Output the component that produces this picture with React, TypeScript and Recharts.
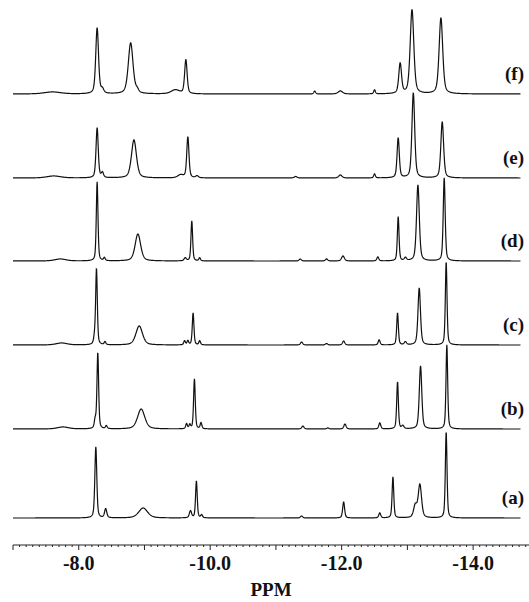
import React from 'react';
import { LineChart, Line, XAxis, YAxis } from 'recharts';

// ---- data: [position ppm (magnitude), height, FWHM ppm] ----
type Peak = [number, number, number];

const peaksA: Peak[] = [
  [8.26, 71, 0.035], [8.41, 9, 0.04], [8.98, 10, 0.16], [9.70, 7, 0.04],
  [9.79, 37, 0.03], [9.87, 3, 0.03], [11.39, 2, 0.04], [12.03, 16, 0.035],
  [12.58, 5, 0.035], [12.78, 41, 0.03], [13.12, 12, 0.06], [13.19, 33, 0.06],
  [13.59, 86, 0.03],
];
const peaksB: Peak[] = [
  [7.76, 2, 0.2], [8.25, 8, 0.03], [8.29, 76, 0.03], [8.42, 3, 0.03],
  [8.95, 20, 0.13], [9.64, 5, 0.03], [9.69, 4, 0.03], [9.76, 50, 0.03],
  [9.86, 6, 0.03], [11.41, 3, 0.04], [11.79, 1, 0.04], [12.05, 5, 0.04],
  [12.58, 6, 0.035], [12.85, 47, 0.03], [12.93, 3, 0.04], [13.20, 63, 0.045],
  [13.60, 84, 0.03],
];
const peaksC: Peak[] = [
  [7.74, 2, 0.2], [8.24, 6, 0.03], [8.27, 76, 0.03], [8.40, 3, 0.03],
  [8.92, 19, 0.12], [9.61, 4, 0.03], [9.66, 4, 0.03], [9.74, 32, 0.03],
  [9.84, 4, 0.03], [11.39, 3, 0.04], [11.77, 1.5, 0.04], [12.03, 4, 0.04],
  [12.57, 5, 0.035], [12.85, 32, 0.03], [12.97, 3, 0.04], [13.18, 57, 0.045],
  [13.59, 83, 0.03],
];
const peaksD: Peak[] = [
  [7.72, 2, 0.2], [8.28, 79, 0.03], [8.39, 3, 0.03], [8.90, 27, 0.1],
  [9.62, 3, 0.04], [9.72, 40, 0.03], [9.84, 3, 0.03], [11.37, 2, 0.04],
  [11.77, 2, 0.04], [12.02, 5, 0.05], [12.55, 4, 0.035], [12.86, 44, 0.03],
  [12.97, 3, 0.04], [13.16, 76, 0.05], [13.56, 83, 0.035],
];
const peaksE: Peak[] = [
  [7.62, 2, 0.25], [8.28, 50, 0.04], [8.36, 5, 0.04], [8.84, 38, 0.09],
  [9.55, 3, 0.1], [9.66, 41, 0.04], [9.80, 2, 0.05], [11.30, 1.5, 0.05],
  [11.98, 3, 0.06], [12.50, 4, 0.03], [12.86, 40, 0.04], [13.09, 85, 0.05],
  [13.53, 56, 0.05],
];
const peaksF: Peak[] = [
  [7.60, 2, 0.3], [8.28, 66, 0.05], [8.36, 4, 0.05], [8.79, 51, 0.085],
  [8.89, 3, 0.05], [9.47, 4, 0.15], [9.63, 34, 0.045], [11.59, 3, 0.03],
  [11.98, 3, 0.08], [12.50, 4, 0.03], [12.89, 30, 0.05], [13.07, 84, 0.065],
  [13.51, 76, 0.065],
];

const spectrumKeys = ['a', 'b', 'c', 'd', 'e', 'f'];
const spectrumLabels = ['(a)', '(b)', '(c)', '(d)', '(e)', '(f)'];
const spectrumPeaks = [peaksA, peaksB, peaksC, peaksD, peaksE, peaksF];

const labelledTicks = [8, 10, 12, 14];
const labelledTickText = ['-8.0', '-10.0', '-12.0', '-14.0'];
const axisTitle = 'PPM';

// ---- layout ----
const W = 529;
const H = 602;
const PLOT_LEFT = 13;
const AXIS_Y = 545;
const baselinePx = [518, 429, 345, 261, 178, 94];
const X_MIN = 7.0;
const X_MAX = 14.85;
const DATA_START = 7.0;
const DATA_END = 14.72;
const STEP = 0.004;
const ETA = 0.45;

function shape(x: number, peaks: Peak[]): number {
  let s = 0;
  for (const [p, h, w] of peaks) {
    const r = (x - p) / w;
    const lor = 1 / (1 + 4 * r * r);
    const gau = Math.exp(-4 * Math.LN2 * r * r);
    s += h * (ETA * lor + (1 - ETA) * gau);
  }
  return s;
}

const rows: Record<string, number>[] = [];
const n = Math.round((DATA_END - DATA_START) / STEP);
for (let i = 0; i <= n; i++) {
  const ppm = DATA_START + i * STEP;
  const row: Record<string, number> = { ppm };
  spectrumKeys.forEach((k, j) => {
    row[k] = AXIS_Y - baselinePx[j] + shape(ppm, spectrumPeaks[j]);
  });
  rows.push(row);
}

const minorTicks: number[] = [];
for (let k = 70; k <= 148; k++) minorTicks.push(k / 10);

const serif = '"Liberation Serif", "Times New Roman", serif';

function AxisTick(props: any) {
  const { x, y, payload } = props;
  const v = Math.round(payload.value * 10) / 10;
  const isMajor = Math.abs(v - Math.round(v)) < 1e-6;
  const li = labelledTicks.indexOf(v);
  return (
    <g>
      <line x1={x} x2={x} y1={y} y2={y + (isMajor ? 5 : 2)} stroke="#222" strokeWidth={1} />
      {li >= 0 && (
        <text x={x} y={y + 25} textAnchor="middle" fontFamily={serif} fontWeight="bold" fontSize={20} fill="#111">
          {labelledTickText[li]}
        </text>
      )}
    </g>
  );
}

export default function App() {
  return (
    <div style={{ position: 'absolute', left: 0, top: 0, width: W, height: H, background: '#fff' }}>
      <LineChart width={W} height={H} data={rows} margin={{ top: 0, right: 0, bottom: 0, left: PLOT_LEFT }}>
        <XAxis
          type="number"
          dataKey="ppm"
          domain={[X_MIN, X_MAX]}
          allowDataOverflow
          ticks={minorTicks}
          interval={0}
          tick={<AxisTick />}
          tickLine={false}
          tickSize={0}
          tickMargin={0}
          axisLine={{ stroke: '#222', strokeWidth: 1 }}
          height={H - AXIS_Y}
        />
        <YAxis type="number" hide domain={[0, AXIS_Y]} allowDataOverflow />
        {spectrumKeys.map((k) => (
          <Line
            key={k}
            type="linear"
            dataKey={k}
            stroke="#111"
            strokeWidth={1.2}
            dot={false}
            activeDot={false}
            isAnimationActive={false}
          />
        ))}
      </LineChart>
      {spectrumLabels.map((t, j) => (
        <div
          key={t}
          style={{
            position: 'absolute',
            right: 5,
            top: baselinePx[j] - 32,
            fontFamily: serif,
            fontWeight: 'bold',
            fontSize: 19,
            lineHeight: '24px',
            color: '#111',
          }}
        >
          {t}
        </div>
      ))}
      <div
        style={{
          position: 'absolute',
          left: 0,
          width: W,
          paddingLeft: PLOT_LEFT,
          boxSizing: 'border-box',
          top: 578,
          textAlign: 'center',
          fontFamily: serif,
          fontWeight: 'bold',
          fontSize: 19,
          lineHeight: '24px',
          color: '#111',
        }}
      >
        {axisTitle}
      </div>
    </div>
  );
}
